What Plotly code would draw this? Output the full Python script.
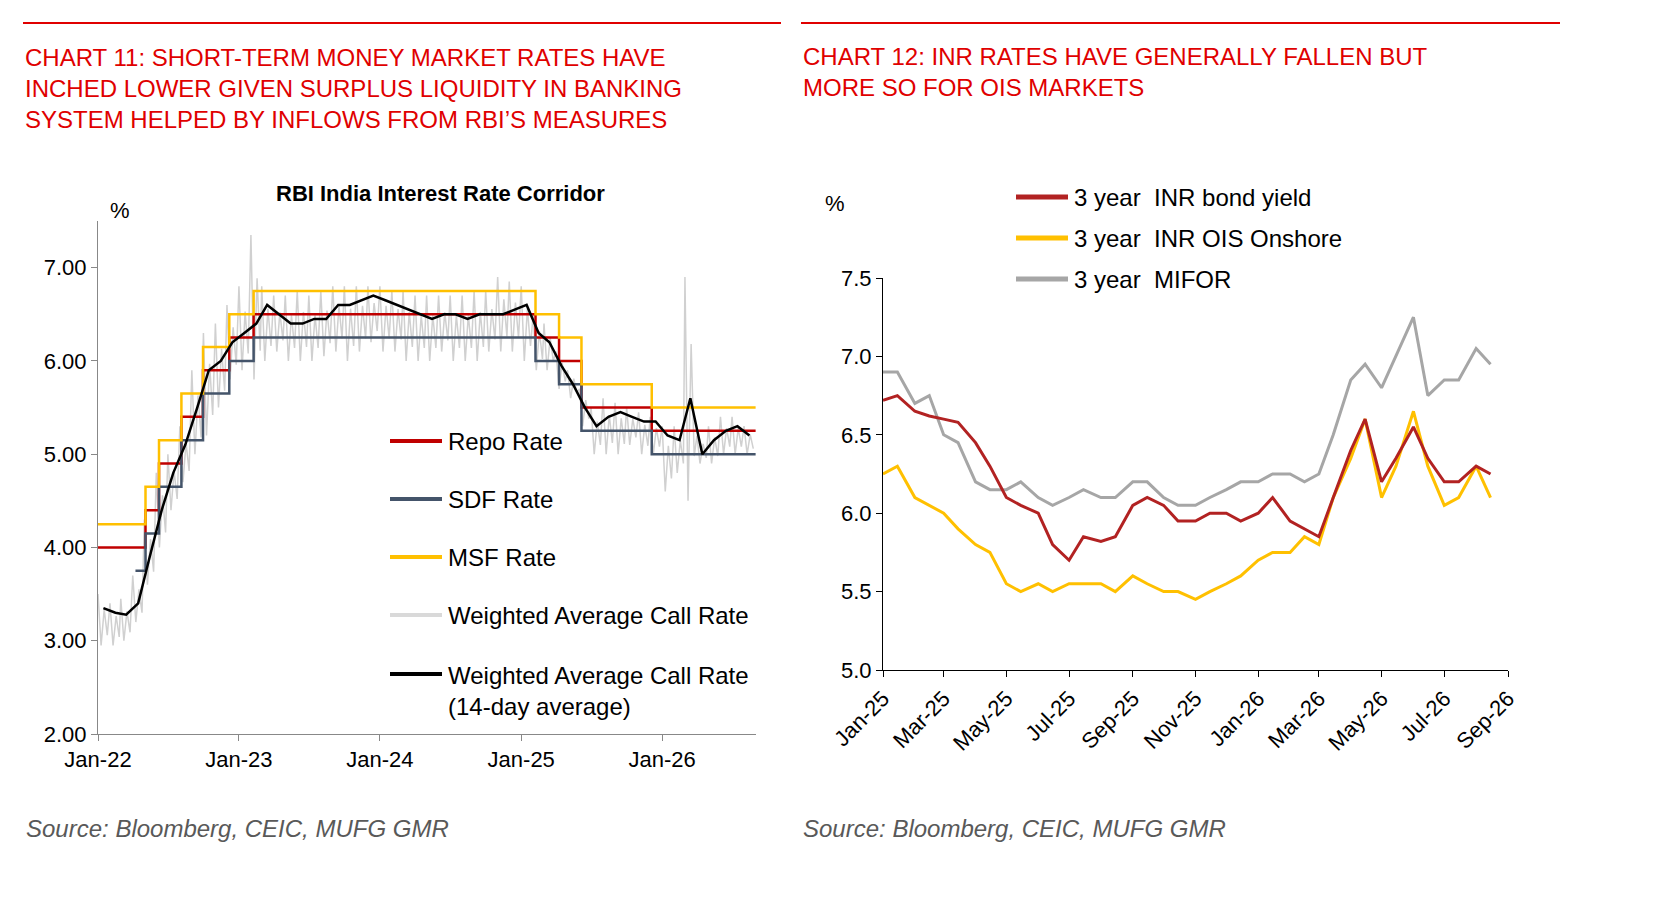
import plotly.graph_objects as go
import pandas as pd

W, H = 1670, 910
FONT = "Liberation Sans"
RED = "#e00000"

# ---- Chart 11 data ----
policy_dates = ["2022-01-01","2022-04-08","2022-05-04","2022-06-08","2022-08-05","2022-09-30",
                "2022-12-07","2023-02-08","2025-02-07","2025-04-09","2025-06-06","2025-12-05","2026-08-31"]
repo = [4.00,4.00,4.40,4.90,5.40,5.90,6.25,6.50,6.25,6.00,5.50,5.25,5.25]
sdf  = [None,3.75,4.15,4.65,5.15,5.65,6.00,6.25,6.00,5.75,5.25,5.00,5.00]
msf  = [4.25,4.25,4.65,5.15,5.65,6.15,6.50,6.75,6.50,6.25,5.75,5.50,5.50]

months11 = pd.date_range("2022-01-01", periods=56, freq="MS")
call_avg = [3.35,3.30,3.28,3.40,3.90,4.40,4.80,5.10,5.50,5.90,6.00,6.20,
            6.30,6.40,6.60,6.50,6.40,6.40,6.45,6.45,6.60,6.60,6.65,6.70,
            6.65,6.60,6.55,6.50,6.45,6.50,6.50,6.45,6.50,6.50,6.50,6.55,
            6.60,6.30,6.20,5.95,5.75,5.50,5.30,5.40,5.45,5.40,5.35,5.35,
            5.20,5.15,5.60,5.00,5.15,5.25,5.30,5.20]
call_hi = [3.50,3.40,3.45,3.70,4.30,4.80,5.00,5.30,5.90,6.30,6.40,6.60,
           6.80,7.35,6.80,6.70,6.70,6.75,6.70,6.75,6.80,6.80,6.80,6.80,
           6.80,6.75,6.75,6.70,6.70,6.70,6.70,6.70,6.75,6.75,6.90,6.85,
           6.80,6.50,6.40,6.10,5.90,5.70,5.50,5.60,5.55,5.50,5.45,5.40,
           5.30,5.30,6.90,5.20,5.30,5.40,5.40,5.30]
call_lo = [2.95,2.95,3.00,3.20,3.60,4.00,4.40,4.70,5.00,5.20,5.50,5.80,
           5.90,5.80,6.00,6.10,6.00,6.00,6.00,6.05,6.10,6.00,6.10,6.20,
           6.10,6.10,6.00,6.00,6.00,6.10,6.00,6.00,6.00,6.10,6.10,6.10,
           6.00,5.90,5.90,5.70,5.60,5.30,5.00,5.00,5.00,5.10,5.00,5.00,
           4.60,4.80,4.50,4.90,4.90,5.00,5.00,5.00]

# ---- Chart 12 data ----
dates12 = pd.date_range("2025-01-01", periods=40, freq="SMS")
bond = [6.72,6.75,6.65,6.62,6.60,6.58,6.45,6.30,6.10,6.05,6.00,5.80,5.70,5.85,5.82,5.85,6.05,6.10,6.05,5.95,
        5.95,6.00,6.00,5.95,6.00,6.10,5.95,5.90,5.85,6.10,6.40,6.60,6.20,6.35,6.55,6.35,6.20,6.20,6.30,6.25]
ois = [6.25,6.30,6.10,6.05,6.00,5.90,5.80,5.75,5.55,5.50,5.55,5.50,5.55,5.55,5.55,5.50,5.60,5.55,5.50,5.50,
       5.45,5.50,5.55,5.60,5.70,5.75,5.75,5.85,5.80,6.10,6.35,6.60,6.10,6.30,6.65,6.30,6.05,6.10,6.30,6.10]
mifor = [6.90,6.90,6.70,6.75,6.50,6.45,6.20,6.15,6.15,6.20,6.10,6.05,6.10,6.15,6.10,6.10,6.20,6.20,6.10,6.05,
         6.05,6.10,6.15,6.20,6.20,6.25,6.25,6.20,6.25,6.50,6.85,6.95,6.80,7.00,7.25,6.75,6.85,6.85,7.05,6.95]

grey_x, grey_y = [], []
for d, h, l in zip(months11, call_hi, call_lo):
    grey_x += [d, d + pd.Timedelta(days=8), d + pd.Timedelta(days=16), d + pd.Timedelta(days=24)]
    grey_y += [h, l, h - (h - l) * 0.3, l + (h - l) * 0.2]

fig = go.Figure()
fig.add_trace(go.Scatter(x=grey_x, y=grey_y, mode="lines", line=dict(color="#d0d0d0", width=1.5), xaxis="x", yaxis="y"))
fig.add_trace(go.Scatter(x=policy_dates, y=repo, mode="lines", line=dict(color="#c00000", width=2.5, shape="hv"), xaxis="x", yaxis="y"))
fig.add_trace(go.Scatter(x=policy_dates, y=sdf, mode="lines", line=dict(color="#44546a", width=2.5, shape="hv"), xaxis="x", yaxis="y"))
fig.add_trace(go.Scatter(x=policy_dates, y=msf, mode="lines", line=dict(color="#ffc000", width=2.5, shape="hv"), xaxis="x", yaxis="y"))
fig.add_trace(go.Scatter(x=months11 + pd.Timedelta(days=14), y=call_avg, mode="lines", line=dict(color="black", width=2.5), xaxis="x", yaxis="y"))

fig.add_trace(go.Scatter(x=dates12, y=mifor, mode="lines", line=dict(color="#a6a6a6", width=3), xaxis="x2", yaxis="y2"))
fig.add_trace(go.Scatter(x=dates12, y=ois, mode="lines", line=dict(color="#ffc000", width=3), xaxis="x2", yaxis="y2"))
fig.add_trace(go.Scatter(x=dates12, y=bond, mode="lines", line=dict(color="#b22222", width=3), xaxis="x2", yaxis="y2"))

ax = dict(showgrid=False, zeroline=False, showline=True, linecolor="#888", ticks="outside", automargin=False,
          tickcolor="#888", ticklen=6, tickfont=dict(size=22, color="black", family=FONT))
fig.update_layout(
    width=W, height=H, margin=dict(l=0, r=0, t=0, b=0, autoexpand=False), showlegend=False,
    plot_bgcolor="white", paper_bgcolor="white", font=dict(family=FONT),
    xaxis=dict(ax, domain=[90/W, 748/W], range=["2022-01-01", "2026-09-01"], tickformat="%b-%y",
               tickvals=["2022-01-01","2023-01-01","2024-01-01","2025-01-01","2026-01-01"]),
    yaxis=dict(ax, domain=[1-726/H, 1-213/H], range=[2, 7.5], tickvals=[2,3,4,5,6,7], tickformat=".2f"),
    xaxis2=dict(ax, domain=[875/W, 1500/W], range=["2025-01-01", "2026-09-01"], tickformat="%b-%y",
                dtick="M2", tick0="2025-01-01", tickangle=-45, anchor="y2", linecolor="black", tickcolor="black"),
    yaxis2=dict(ax, domain=[1-662/H, 1-270/H], range=[5, 7.5], dtick=0.5, tickformat=".1f", anchor="x2",
                linecolor="black", tickcolor="black"),
)

shapes = [dict(type="line", xref="paper", yref="paper", x0=15/W, x1=773/W, y0=1-15/H, y1=1-15/H, line=dict(color=RED, width=2)),
          dict(type="line", xref="paper", yref="paper", x0=793/W, x1=1552/W, y0=1-15/H, y1=1-15/H, line=dict(color=RED, width=2))]
ann = []
def text(x, y, s, size=22, color="black", anchor="left", **kw):
    ann.append(dict(x=x/W, y=1-y/H, xref="paper", yref="paper", text=s, showarrow=False, xanchor=anchor,
                    yanchor="middle", align="left", font=dict(size=size, color=color, family=FONT), **kw))
text(15, 80, "CHART 11: SHORT-TERM MONEY MARKET RATES HAVE<br>INCHED LOWER GIVEN SURPLUS LIQUIDITY IN BANKING<br>SYSTEM HELPED BY INFLOWS FROM RBI’S MEASURES", size=24, color=RED)
text(793, 64, "CHART 12: INR RATES HAVE GENERALLY FALLEN BUT<br>MORE SO FOR OIS MARKETS", size=24, color=RED)
text(432, 186, "<b>RBI India Interest Rate Corridor</b>", size=22, anchor="center")
text(100, 202, "%", size=22)
text(815, 195, "%", size=22)
text(16, 820, "<i>Source: Bloomberg, CEIC, MUFG GMR</i>", size=24, color="#595959")
text(793, 820, "<i>Source: Bloomberg, CEIC, MUFG GMR</i>", size=24, color="#595959")
leg11 = [(433, "Repo Rate", "#c00000"), (491, "SDF Rate", "#44546a"), (549, "MSF Rate", "#ffc000"),
         (607, "Weighted Average Call Rate", "#d9d9d9"), (666, "Weighted Average Call Rate<br>(14-day average)", "black")]
for y, s, c in leg11:
    shapes.append(dict(type="line", xref="paper", yref="paper", x0=382/W, x1=434/W, y0=1-y/H, y1=1-y/H, line=dict(color=c, width=4)))
    if "<br>" in s:
        ann.append(dict(x=438/W, y=1-(y-14)/H, xref="paper", yref="paper", text=s, showarrow=False, xanchor="left",
                        yanchor="top", align="left", font=dict(size=24, color="black", family=FONT)))
    else:
        text(438, y, s, size=24)
leg12 = [(189, "3 year  INR bond yield", "#b22222"), (230, "3 year  INR OIS Onshore", "#ffc000"), (271, "3 year  MIFOR", "#a6a6a6")]
for y, s, c in leg12:
    shapes.append(dict(type="line", xref="paper", yref="paper", x0=1008/W, x1=1060/W, y0=1-y/H, y1=1-y/H, line=dict(color=c, width=5)))
    text(1064, y, s, size=24)
fig.update_layout(shapes=shapes, annotations=ann)
fig.write_html("out.html")
